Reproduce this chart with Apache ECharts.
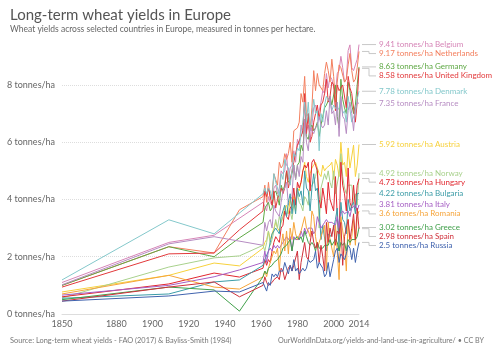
<!DOCTYPE html>
<html>
<head>
<meta charset="utf-8">
<script src="https://cdn.jsdelivr.net/npm/echarts@6/dist/echarts.min.js"></script>
<style>
  html, body { margin: 0; padding: 0; background: #fff; }
  #chart { width: 500px; height: 353px; }
</style>
</head>
<body>
<div id="chart"></div>
<script>
// years with sparse historical estimates, then yearly FAO series from 1961
const histYears = [1850, 1909, 1934, 1948];
const modernStart = 1961;
const xTicks = [1850, 1880, 1900, 1920, 1940, 1960, 1980, 2000, 2014];
const yTicks = [0, 2, 4, 6, 8];

const countries = ['Belgium', 'Netherlands', 'Germany', 'United Kingdom', 'Denmark', 'France', 'Austria',
  'Norway', 'Hungary', 'Bulgaria', 'Italy', 'Romania', 'Greece', 'Spain', 'Russia'];

const colors = ['#d685b7', '#f37f5e', '#5fa845', '#e2393b', '#84c8cb', '#b68cc2', '#f7d13c',
  '#a8d18c', '#e1272f', '#3c9ca7', '#a65fc4', '#f6a53b', '#41a04b', '#d0303b', '#4063ae'];

// 1850, 1909, 1934, 1948 (null = no value)
const histBelgium = [1.1, 2.5, 2.75, null];
const histNetherlands = [1.0, 2.35, 2.13, 3.64];
const histGermany = [1.0, 2.35, 2.0, 2.66];
const histUK = [0.94, 2.1, 2.13, 2.94];
const histDenmark = [1.19, 3.29, 2.8, null];
const histFrance = [1.02, 2.45, 2.7, null];
const histAustria = [0.77, 1.35, 1.78, 1.68];
const histNorway = [0.56, 1.64, 1.96, 2.03];
const histHungary = [0.6, 1.05, 1.43, 1.29];
const histBulgaria = [0.55, 0.7, 1.12, 1.19];
const histItaly = [0.66, 1.0, 1.3, 1.54];
const histRomania = [0.7, 1.35, 0.94, 0.87];
const histGreece = [0.5, 0.94, 0.84, 0.1];
const histSpain = [0.45, 0.94, 1.12, 0.6];
const histRussia = [0.45, 0.63, 0.8, 0.77];

// 1961 - 2014
const belgium = [3.9,3.9,3.6,4.1,3.9,3.8,4.4,4.5,4.2,4.4, 5.0,4.9,5.0,5.6,4.7,5.1,5.2,5.7,5.3,6.1,
  5.9,6.6,6.3,7.3,6.4,6.6,6.1,6.6,7.2,7.3, 7.0,7.1,7.4,7.8,7.7,8.4,7.9,8.3,8.2,8.2,
  7.7,8.4,8.5,9.0,8.6,8.1,8.2,9.2,9.4,8.6, 8.5,8.7,8.9,9.41];
const netherlands = [4.1,4.5,3.9,4.6,4.0,4.2,4.9,4.7,4.5,5.3, 5.1,5.2,5.6,5.4,5.6,6.0,5.3,6.4,6.4,6.5,
  6.7,7.7,7.4,8.3,6.9,7.0,6.4,7.2,8.5,7.8, 8.4,8.0,8.0,7.8,8.4,8.8,8.5,8.1,8.9,8.3,
  7.4,8.1,8.7,8.6,8.6,8.1,8.2,8.7,9.1,8.5, 8.1,8.2,8.6,9.17];
const germany = [3.2,3.7,3.8,3.9,3.6,3.7,4.2,4.3,4.1,3.8, 4.5,4.3,4.5,5.0,4.6,4.7,4.9,5.2,4.7,5.2,
  5.3,5.9,5.7,6.8,6.2,6.1,6.5,6.6,6.4,6.5, 6.7,6.2,6.6,6.9,7.2,7.3,7.3,7.6,7.3,7.3,
  8.0,6.9,6.5,8.2,7.5,7.2,7.0,8.1,7.8,7.3, 7.0,7.3,8.0,8.63];
const uk = [3.6,4.3,4.1,4.4,4.1,3.8,4.3,3.7,4.0,4.2, 4.4,4.2,4.4,5.0,4.4,4.4,5.0,5.3,5.3,5.9,
  5.9,6.2,6.4,7.7,6.3,7.0,6.0,6.2,6.7,7.0, 7.3,6.8,7.3,7.4,7.7,8.2,7.4,7.6,8.1,8.0,
  7.1,8.0,7.8,7.8,8.0,8.0,7.2,8.3,7.9,7.7, 7.7,6.7,7.4,8.58];
const denmark = [4.2,4.4,4.2,4.4,4.3,4.0,4.9,4.6,4.4,4.1, 4.9,4.7,5.4,5.2,5.1,4.5,5.0,5.6,5.5,5.8,
  5.7,6.4,6.7,7.4,6.7,7.4,6.4,6.9,7.5,7.0, 7.1,5.7,7.0,6.7,7.3,7.6,7.5,7.4,7.1,7.3,
  7.3,7.1,7.2,7.5,7.0,7.1,6.7,7.6,7.6,6.7, 6.9,7.0,7.5,7.78];
const france = [2.4,3.2,2.9,3.2,3.3,3.0,3.8,3.6,3.5,3.4, 3.9,4.3,4.4,4.6,3.8,3.8,4.1,5.2,4.7,5.2,
  4.8,5.5,5.3,6.8,6.0,5.7,6.5,6.4,6.3,6.5, 6.6,6.9,6.6,6.5,6.6,7.1,6.6,7.6,7.0,7.1,
  6.6,7.4,6.2,7.6,6.9,6.8,6.3,7.1,7.4,7.0, 6.4,7.2,7.4,7.35];
const austria = [2.3,2.5,2.6,2.9,2.6,2.6,3.0,3.2,3.0,2.9, 3.2,3.4,3.7,3.8,3.5,4.0,3.7,4.1,3.6,4.4,
  4.3,4.6,5.0,5.3,4.8,4.6,4.9,5.1,5.2,5.3, 5.1,4.9,4.8,5.2,5.0,5.1,5.1,5.2,5.3,4.7,
  5.4,5.2,4.8,6.0,5.2,5.3,4.8,5.8,5.1,5.1, 5.9,4.8,5.2,5.92];
const norway = [2.4,2.2,2.5,2.9,2.4,2.6,2.9,3.3,3.0,3.4, 3.2,3.4,3.6,3.5,3.5,3.6,3.3,3.8,3.8,4.2,
  3.9,3.8,3.6,4.1,4.0,3.8,4.4,4.5,4.6,4.8, 5.1,3.0,4.4,4.4,4.9,4.7,5.0,4.6,4.4,5.0,
  4.2,4.2,4.9,5.6,4.8,4.4,4.2,4.5,4.5,4.5, 3.9,4.2,3.8,4.92];
const hungary = [1.6,1.9,1.7,1.9,1.8,2.2,2.5,2.7,2.6,2.5, 3.0,3.1,3.6,3.4,3.3,3.7,3.8,4.4,3.8,4.6,
  4.4,4.6,5.0,5.2,5.1,5.3,4.3,5.3,5.4,5.2, 5.0,4.0,3.7,4.4,4.0,3.5,4.6,4.0,3.8,3.6,
  4.8,3.4,2.6,5.3,4.5,4.2,3.6,5.1,3.9,3.7, 4.5,3.7,4.5,4.73];
const bulgaria = [1.7,1.9,1.9,2.2,2.5,2.8,2.9,3.0,2.9,2.8, 3.4,3.6,3.8,3.4,3.9,4.2,3.5,4.0,3.5,4.4,
  4.1,4.3,3.8,5.0,4.4,4.3,3.6,4.4,4.9,4.3, 4.4,3.7,2.6,3.1,3.1,2.2,2.8,2.7,2.8,3.0,
  3.3,3.7,2.2,3.9,3.3,3.2,2.8,4.0,3.6,3.8, 3.9,3.5,4.2,4.22];
const italy = [1.8,2.2,1.8,2.2,2.3,2.2,2.4,2.3,2.4,2.3, 2.4,2.5,2.5,2.7,2.6,2.7,2.2,2.7,2.6,2.6,
  2.6,2.9,2.7,3.0,2.8,3.0,3.0,3.0,2.8,2.9, 3.4,3.2,3.0,3.1,3.2,3.3,3.2,3.2,3.2,3.2,
  3.1,3.4,3.0,3.5,3.6,3.5,3.5,3.6,3.4,3.7, 3.7,3.8,3.6,3.81];
const romania = [1.3,1.5,1.3,1.6,1.8,2.0,2.2,2.1,2.3,1.5, 2.4,2.8,2.2,2.9,2.1,3.0,2.6,3.2,2.8,2.6,
  2.6,2.9,2.9,3.4,3.0,2.9,2.7,3.6,3.4,2.7, 2.3,2.5,2.7,2.7,3.1,1.5,3.2,2.6,2.6,2.0,
  3.1,2.2,1.2,3.4,2.9,2.5,1.5,3.3,2.4,2.7, 3.3,2.4,3.4,3.6];
const greece = [1.3,1.5,1.4,1.6,1.6,1.7,1.8,1.8,1.9,1.9, 2.1,2.3,2.3,2.4,2.5,2.6,2.2,2.6,2.6,2.7,
  2.6,2.7,2.5,2.9,2.7,2.5,2.4,2.5,2.4,2.2, 2.5,2.3,2.3,2.3,2.4,2.4,2.4,2.6,2.4,2.4,
  2.6,2.5,2.2,2.5,2.4,2.5,2.2,2.6,2.5,2.6, 2.6,2.6,2.7,3.02];
const spain = [1.0,1.3,1.1,1.0,1.0,1.1,1.2,1.2,1.3,1.2, 1.6,1.5,1.2,1.4,1.6,1.7,1.5,1.7,1.7,2.2,
  1.2,1.8,1.8,2.5,2.0,1.9,2.5,2.9,2.5,2.3, 2.5,1.8,2.4,2.0,1.5,3.2,2.5,3.0,2.7,3.1,
  2.4,2.9,2.8,3.2,1.7,2.7,3.0,3.3,2.6,3.0, 3.5,2.6,3.7,2.98];
const russia = [1.1,1.1,0.8,1.1,1.0,1.4,1.3,1.4,1.3,1.5, 1.5,1.5,1.8,1.6,1.4,1.7,1.5,1.9,1.5,1.6,
  1.4,1.4,1.6,1.5,1.6,1.9,1.8,1.8,1.9,2.2, 1.6,1.8,1.8,1.6,1.3,1.4,1.8,1.3,1.6,1.9,
  2.2,2.3,1.8,2.1,2.0,1.9,2.1,2.4,2.3,1.9, 2.3,1.8,2.2,2.5];

const hist = [histBelgium, histNetherlands, histGermany, histUK, histDenmark, histFrance, histAustria,
  histNorway, histHungary, histBulgaria, histItaly, histRomania, histGreece, histSpain, histRussia];
const modern = [belgium, netherlands, germany, uk, denmark, france, austria,
  norway, hungary, bulgaria, italy, romania, greece, spain, russia];

const font = 'Lato, "Open Sans", sans-serif';
const lastYear = modernStart + belgium.length - 1;
const lastValues = modern.map(m => m[m.length - 1]);

function buildData(h, m) {
  let out = [];
  h.forEach((v, i) => { if (v != null) out.push([histYears[i], v]); });
  m.forEach((v, i) => out.push([modernStart + i, v]));
  return out;
}

let series = countries.map((name, i) => ({
  name: name,
  type: 'line',
  data: buildData(hist[i], modern[i]),
  showSymbol: false,
  symbol: 'none',
  lineStyle: { width: 1, color: colors[i] },
  itemStyle: { color: colors[i] },
  z: 3
}));

// label rows: push labels down so they don't overlap, keeping value order
function labelYs(api) {
  let ys = lastValues.map(v => api.coord([lastYear, v])[1]);
  let order = ys.map((y, i) => i).sort((a, b) => ys[a] - ys[b]);
  let out = [];
  let prev = -Infinity;
  order.forEach(i => {
    let y = Math.max(ys[i], prev + 9);
    out[i] = y;
    prev = y;
  });
  return out;
}

series.push({
  type: 'custom',
  silent: true,
  clip: false,
  data: countries.map((name, i) => [lastYear, lastValues[i], i]),
  renderItem: function (params, api) {
    let i = api.value(2);
    let p = api.coord([api.value(0), api.value(1)]);
    let ly = labelYs(api)[i];
    let x0 = p[0] + 3;
    return {
      type: 'group',
      children: [
        {
          type: 'polyline',
          shape: { points: [[x0, p[1]], [x0 + 7, p[1]], [x0 + 7, ly], [x0 + 14, ly]] },
          style: { stroke: '#c8c8c8', lineWidth: 1, fill: null }
        },
        {
          type: 'text',
          x: x0 + 17, y: ly,
          style: {
            text: lastValues[i] + ' tonnes/ha ' + countries[i],
            fill: colors[i], font: '8px ' + font,
            verticalAlign: 'middle', align: 'left'
          }
        }
      ]
    };
  },
  z: 4
});

let chart = echarts.init(document.getElementById('chart'));
chart.setOption({
  animation: false,
  textStyle: { fontFamily: font },
  title: [
    {
      text: 'Long-term wheat yields in Europe',
      subtext: 'Wheat yields across selected countries in Europe, measured in tonnes per hectare.',
      left: 5, top: 3, itemGap: 2,
      textStyle: { fontFamily: font, fontSize: 15, fontWeight: 'normal', color: '#555' },
      subtextStyle: { fontFamily: font, fontSize: 8.5, color: '#666' }
    },
    {
      text: 'Source: Long-term wheat yields - FAO (2017) & Bayliss-Smith (1984)',
      left: 5, bottom: 4,
      textStyle: { fontFamily: font, fontSize: 7.4, fontWeight: 'normal', color: '#777' }
    },
    {
      text: 'OurWorldInData.org/yields-and-land-use-in-agriculture/ • CC BY',
      right: 11, bottom: 4,
      textStyle: { fontFamily: font, fontSize: 7.2, fontWeight: 'normal', color: '#777' }
    }
  ],
  grid: { left: 62, right: 141, top: 42, bottom: 39 },
  xAxis: {
    type: 'value',
    min: 1850, max: 2014,
    axisLine: { show: true, lineStyle: { color: '#ddd' } },
    axisTick: { show: false, customValues: xTicks },
    splitLine: { show: false },
    axisLabel: {
      customValues: xTicks, color: '#666', fontSize: 9, margin: 6, fontFamily: font,
      formatter: v => String(v)
    }
  },
  yAxis: {
    type: 'value',
    min: 0, max: 9.5,
    axisLine: { show: false },
    axisTick: { show: false, customValues: yTicks },
    splitLine: { show: true, lineStyle: { color: '#ddd', type: 'dotted' } },
    axisLabel: {
      customValues: yTicks,
      color: '#666', fontSize: 9, align: 'left', margin: 55, fontFamily: font,
      formatter: v => v + ' tonnes/ha'
    }
  },
  series: series
});
</script>
</body>
</html>
